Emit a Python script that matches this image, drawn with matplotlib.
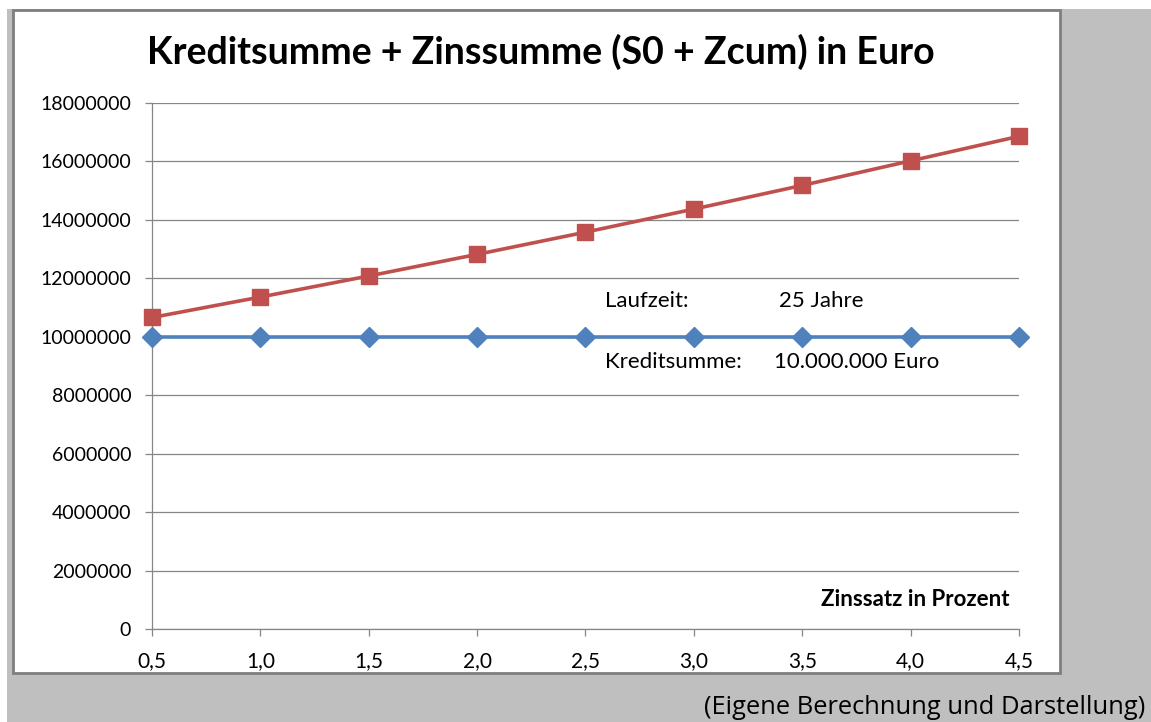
import matplotlib
matplotlib.use("Agg")
import matplotlib.pyplot as plt
from matplotlib.patches import Rectangle
from matplotlib.ticker import FuncFormatter

# ── Data ──────────────────────────────────────────────────────────────────────
zinssatz = [0.5, 1.0, 1.5, 2.0, 2.5, 3.0, 3.5, 4.0, 4.5]
kredit_plus_zins = [10660000, 11360000, 12080000, 12820000, 13580000,
                    14370000, 15180000, 16020000, 16860000]
kreditsumme = [10000000] * 9
y_ticks = list(range(0, 18000001, 2000000))

RED = "#C0504D"
BLUE = "#4F81BD"
GRID = "#868686"
BG = "#BFBFBF"

W, H = 1151, 722
fig = plt.figure(figsize=(W / 100, H / 100), dpi=100, facecolor="white")

# gray page background + white chart box
fig.patches.append(Rectangle((7 / W, 0), 1 - 7 / W, 1 - 9 / H,
                             transform=fig.transFigure, facecolor=BG,
                             edgecolor="none", zorder=0))
fig.patches.append(Rectangle((13 / W, 1 - 673 / H), (1060 - 13) / W, (673 - 10) / H,
                             transform=fig.transFigure, facecolor="white",
                             edgecolor="#7f7f7f", linewidth=2, zorder=1))

ax = fig.add_axes([152 / W, 1 - 629 / H, (1019 - 152) / W, (629 - 103) / H])
ax.set_facecolor("none")
ax.set_zorder(2)

ax.plot(zinssatz, kreditsumme, color=BLUE, linewidth=2.6, marker="D",
        markersize=10, clip_on=False, zorder=3)
ax.plot(zinssatz, kredit_plus_zins, color=RED, linewidth=2.6, marker="s",
        markersize=12, clip_on=False, zorder=4)

ax.set_xlim(0.5, 4.5)
ax.set_ylim(0, 18000000)
ax.set_xticks(zinssatz)
ax.set_yticks(y_ticks)
ax.xaxis.set_major_formatter(FuncFormatter(lambda x, _: f"{x:.1f}".replace(".", ",")))
ax.yaxis.set_major_formatter(FuncFormatter(lambda y, _: f"{y:.0f}"))

ax.grid(axis="y", color=GRID, linewidth=0.9)
ax.set_axisbelow(True)
for s in ["top", "right"]:
    ax.spines[s].set_visible(False)
for s in ["left", "bottom"]:
    ax.spines[s].set_color(GRID)
    ax.spines[s].set_linewidth(0.9)
ax.tick_params(axis="both", colors=GRID, length=5, width=0.9, labelcolor="black",
               labelsize=14)
ax.tick_params(axis="x", pad=11, labelsize=15)
ax.tick_params(axis="y", pad=10)
for lbl in ax.get_xticklabels() + ax.get_yticklabels():
    lbl.set_fontfamily("Lato")

ax.text(0.47, 1 - 52 / H, "Kreditsumme + Zinssumme (S0 + Zcum) in Euro",
        transform=fig.transFigure, ha="center", va="center",
        fontsize=27, fontweight="bold", family="Lato")

txt = dict(transform=ax.transAxes, va="center", fontsize=16, family="Lato")
ax.text((605 - 152) / 867, (629 - 301) / 526, "Laufzeit:", **txt)
ax.text((779 - 152) / 867, (629 - 301) / 526, "25 Jahre", **txt)
ax.text((605 - 152) / 867, (629 - 362) / 526, "Kreditsumme:", **txt)
ax.text((774 - 152) / 867, (629 - 362) / 526, "10.000.000 Euro", **txt)
ax.text((1010 - 152) / 867, (629 - 599) / 526, "Zinssatz in Prozent",
        transform=ax.transAxes, ha="right", va="center", fontsize=16,
        fontweight="bold", family="Lato")

fig.text(1145 / W, 1 - 708 / H, "(Eigene Berechnung und Darstellung)",
         ha="right", va="center", fontsize=18.4, family="Open Sans")

fig.savefig("out.png", dpi=100, facecolor="white")
